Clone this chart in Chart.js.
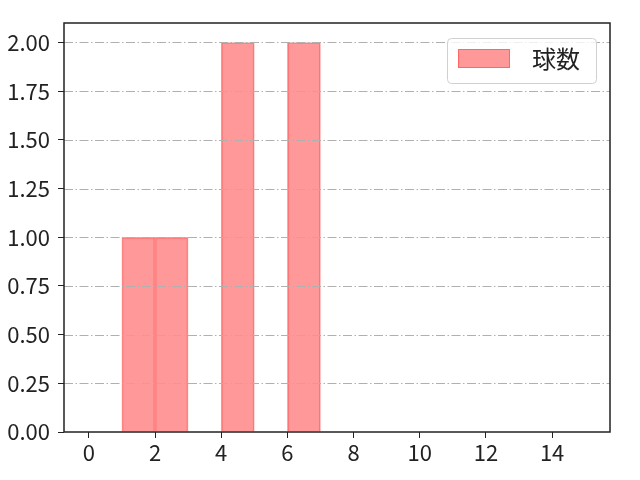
<!DOCTYPE html>
<html>
<head>
<meta charset="utf-8">
<script src="https://cdn.jsdelivr.net/npm/chart.js@4/dist/chart.umd.min.js"></script>
<style>
  html, body { margin: 0; padding: 0; background: #fff; }
  #wrap { width: 640px; height: 480px; }
</style>
</head>
<body>
<div id="wrap"><canvas id="chart" width="640" height="480"></canvas></div>
<script>
// histogram bins (left edge, width 1) and counts
const binLeft = [1, 2, 4, 6];
const counts = [1, 1, 2, 2];
const seriesLabel = '球数';
const xTicks = [0, 2, 4, 6, 8, 10, 12, 14];
const yTicks = [0, 0.25, 0.5, 0.75, 1.0, 1.25, 1.5, 1.75, 2.0];

const FONT = '"Noto Sans CJK JP", "Noto Sans", sans-serif';
const TEXT = '#222';
const barFill = 'rgba(255, 0, 0, 0.4)';
const barEdge = 'rgba(255, 40, 40, 0.45)';

// frame, dash-dot grid over the bars, legend box
const overlay = {
    id: 'overlay',
    afterDatasetsDraw(chart) {
        const { ctx, chartArea: a, scales } = chart;
        ctx.save();
        ctx.strokeStyle = '#b0b0b0';
        ctx.lineWidth = 1;
        ctx.setLineDash([9, 2.5, 1.5, 2.5]);
        yTicks.forEach(v => {
            const y = Math.round(scales.y.getPixelForValue(v)) + 0.5;
            if (v === 0) return;
            ctx.beginPath();
            ctx.moveTo(a.left, y);
            ctx.lineTo(a.right, y);
            ctx.stroke();
        });
        ctx.setLineDash([]);

        ctx.strokeStyle = TEXT;
        ctx.lineWidth = 1.5;
        ctx.strokeRect(a.left, a.top, a.right - a.left, a.bottom - a.top);

        // legend
        const lx = 447, ly = 38, lw = 149, lh = 45;
        ctx.fillStyle = 'rgba(255,255,255,0.8)';
        ctx.strokeStyle = '#d0d0d0';
        ctx.lineWidth = 1;
        ctx.beginPath();
        ctx.roundRect(lx + 0.5, ly + 0.5, lw, lh, 4);
        ctx.fill();
        ctx.stroke();
        ctx.fillStyle = barFill;
        ctx.fillRect(458, 49, 52, 19);
        ctx.strokeStyle = barEdge;
        ctx.strokeRect(458.5, 49.5, 51, 18);
        ctx.fillStyle = TEXT;
        ctx.font = '24px ' + FONT;
        ctx.textBaseline = 'middle';
        ctx.fillText(chart.data.datasets[0].label, 532, 59);
        ctx.restore();
    }
};

new Chart(document.getElementById('chart'), {
    type: 'bar',
    data: {
        datasets: [{
            label: seriesLabel,
            data: binLeft.map((x, i) => ({ x: x + 0.5, y: counts[i] })),
            backgroundColor: barFill,
            borderColor: barEdge,
            borderWidth: 1,
            barPercentage: 1,
            categoryPercentage: 1
        }]
    },
    options: {
        responsive: false,
        animation: false,
        layout: { padding: { left: 0, right: 30, top: 23, bottom: 0 } },
        plugins: { legend: { display: false }, tooltip: { enabled: false } },
        scales: {
            x: {
                type: 'linear',
                offset: false,
                min: -0.75,
                max: 15.75,
                afterFit: s => { s.height = 48; },
                afterBuildTicks: s => { s.ticks = xTicks.map(v => ({ value: v })); },
                grid: { offset: false, drawOnChartArea: false, drawTicks: true, tickLength: 6, color: TEXT },
                border: { display: false },
                ticks: { color: TEXT, font: { family: FONT, size: 22 }, padding: 1, maxRotation: 0 }
            },
            y: {
                min: 0,
                max: 2.1,
                afterFit: s => { s.width = 64; },
                afterBuildTicks: s => { s.ticks = yTicks.map(v => ({ value: v })); },
                grid: { drawOnChartArea: false, drawTicks: true, tickLength: 6, color: TEXT },
                border: { display: false },
                ticks: { color: TEXT, font: { family: FONT, size: 22 }, padding: 8,
                         callback: v => v.toFixed(2) }
            }
        }
    },
    plugins: [overlay]
});
</script>
</body>
</html>
